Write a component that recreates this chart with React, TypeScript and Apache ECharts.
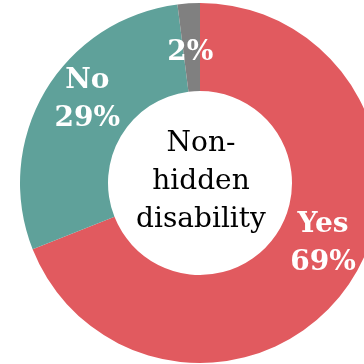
import React, { useEffect, useRef } from "react";
import * as echarts from "echarts";

const categories = ["Yes", "No", "Unknown"];
const values = [69, 29, 2];
const showName = [true, true, false];
const colors = ["#E15A5F", "#5FA19A", "#808080"];
const labelShift = [
  [8, -20],
  [7, -15],
  [-1, 6],
];
const centerTitle = "Non-\nhidden\ndisability";

export default function App() {
  const ref = useRef<HTMLDivElement>(null);
  useEffect(() => {
    if (!ref.current) return;
    const chart = echarts.init(ref.current, undefined, { renderer: "svg" });
    chart.setOption({
      animation: false,
      series: [
        {
          type: "pie",
          center: [200, 183],
          radius: [92, 180],
          startAngle: 90,
          clockwise: true,
          avoidLabelOverlap: false,
          silent: true,
          itemStyle: { borderWidth: 0 },
          label: {
            show: true,
            position: "inside",
            color: "#ffffff",
            fontFamily: "DejaVu Serif",
            fontWeight: "bold",
            fontSize: 28,
            lineHeight: 38,
            align: "center",
            formatter: (p: any) =>
              showName[p.dataIndex] ? `${p.name}\n${p.value}%` : `${p.value}%`,
          },
          labelLine: { show: false },
          labelLayout: (p: any) => ({
            dx: labelShift[p.dataIndex][0],
            dy: labelShift[p.dataIndex][1],
          }),
          data: categories.map((c, i) => ({
            name: c,
            value: values[i],
            itemStyle: { color: colors[i] },
          })),
        },
      ],
      graphic: [
        {
          type: "text",
          x: 201,
          y: 179,
          style: {
            text: centerTitle,
            fill: "#000000",
            font: "28px 'DejaVu Serif'",
            lineHeight: 38,
            align: "center",
            verticalAlign: "middle",
          },
        },
      ],
    });
    return () => chart.dispose();
  }, []);
  return (
    <div
      ref={ref}
      style={{ position: "fixed", left: 0, top: 0, width: 364, height: 364 }}
    />
  );
}
